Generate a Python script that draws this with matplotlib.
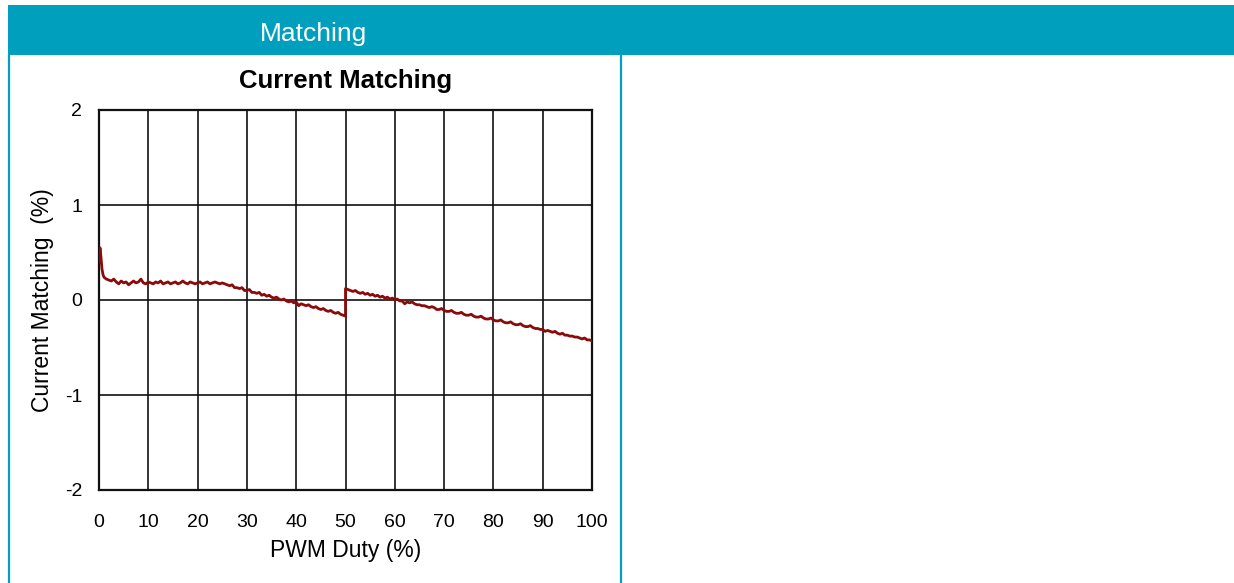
import matplotlib
matplotlib.use("Agg")
import matplotlib.pyplot as plt
from matplotlib.patches import Rectangle
from matplotlib.lines import Line2D

plt.rcParams['font.family'] = ['Liberation Sans', 'DejaVu Sans']
plt.rcParams['axes.unicode_minus'] = False

# valores (PWM duty em %, current matching em %)
duty_ini = [0.0, 0.2, 0.4, 0.6, 0.8, 1.0, 1.5, 2.0]
match_ini = [0.40, 0.55, 0.45, 0.33, 0.27, 0.24, 0.22, 0.21]

duty_plano = [2.5, 3.0, 3.5, 4.0, 4.5, 5.0, 5.5, 6.0, 6.5, 7.0, 7.5, 8.0, 8.5, 9.0, 9.5,
              10.0, 10.5, 11.0, 11.5, 12.0, 12.5, 13.0, 13.5, 14.0, 14.5, 15.0, 15.5,
              16.0, 16.5, 17.0, 17.5, 18.0, 18.5, 19.0, 19.5, 20.0, 20.5, 21.0, 21.5,
              22.0, 22.5, 23.0, 23.5, 24.0, 24.5, 25.0]
match_plano = [0.20, 0.22, 0.19, 0.17, 0.20, 0.18, 0.19, 0.16, 0.18, 0.20, 0.18, 0.19, 0.22,
               0.18, 0.17, 0.19, 0.18, 0.17, 0.19, 0.18, 0.20, 0.17, 0.18, 0.19, 0.17,
               0.18, 0.19, 0.17, 0.18, 0.20, 0.18, 0.17, 0.19, 0.18, 0.17, 0.18, 0.19,
               0.17, 0.18, 0.19, 0.17, 0.18, 0.19, 0.18, 0.17, 0.18]

duty_desce1 = [25.5, 26.0, 26.5, 27.0, 27.5, 28.0, 28.5, 29.0, 29.5, 30.0, 30.5, 31.0,
               31.5, 32.0, 32.5, 33.0, 33.5, 34.0, 34.5, 35.0, 35.5, 36.0, 36.5, 37.0,
               37.5, 38.0, 38.5, 39.0, 39.5, 40.0, 40.5, 41.0, 41.5, 42.0, 42.5, 43.0,
               43.5, 44.0, 44.5, 45.0, 45.5, 46.0, 46.5, 47.0, 47.5, 48.0, 48.5, 49.0,
               49.5, 50.0]
match_desce1 = [0.17, 0.16, 0.15, 0.16, 0.13, 0.13, 0.12, 0.13, 0.10, 0.10, 0.11, 0.08,
                0.08, 0.07, 0.08, 0.05, 0.06, 0.04, 0.05, 0.03, 0.02, 0.03, 0.01, 0.00,
                0.01, -0.01, -0.02, -0.01, -0.03, -0.02, -0.06, -0.04, -0.05, -0.06, -0.05,
                -0.07, -0.08, -0.07, -0.09, -0.10, -0.09, -0.11, -0.12, -0.11, -0.13,
                -0.14, -0.13, -0.15, -0.16, -0.17]

duty_desce2 = [50.0, 50.5, 51.0, 51.5, 52.0, 52.5, 53.0, 53.5, 54.0, 54.5, 55.0, 55.5,
               56.0, 56.5, 57.0, 57.5, 58.0, 58.5, 59.0, 59.5, 60.0, 60.5, 61.0, 61.5,
               62.0, 62.5, 63.0, 63.5, 64.0, 64.5, 65.0, 65.5, 66.0, 66.5, 67.0, 67.5,
               68.0, 68.5, 69.0, 69.5, 70.0, 70.5, 71.0, 71.5, 72.0, 72.5, 73.0, 73.5,
               74.0, 74.5, 75.0, 75.5, 76.0, 76.5, 77.0, 77.5, 78.0, 78.5, 79.0, 79.5,
               80.0, 80.5, 81.0, 81.5, 82.0, 82.5, 83.0, 83.5, 84.0, 84.5, 85.0, 85.5,
               86.0, 86.5, 87.0, 87.5, 88.0, 88.5, 89.0, 89.5, 90.0, 90.5, 91.0, 91.5,
               92.0, 92.5, 93.0, 93.5, 94.0, 94.5, 95.0, 95.5, 96.0, 96.5, 97.0, 97.5,
               98.0, 98.5, 99.0, 99.5, 100.0]
match_desce2 = [0.12, 0.11, 0.10, 0.09, 0.10, 0.08, 0.07, 0.08, 0.06, 0.07, 0.05, 0.06,
                0.04, 0.05, 0.03, 0.04, 0.02, 0.03, 0.01, 0.02, 0.00, 0.01, -0.01, -0.01,
                -0.04, -0.02, -0.03, -0.02, -0.04, -0.05, -0.05, -0.06, -0.06, -0.07,
                -0.08, -0.07, -0.08, -0.10, -0.10, -0.09, -0.11, -0.12, -0.12, -0.11,
                -0.13, -0.14, -0.14, -0.13, -0.15, -0.16, -0.16, -0.15, -0.17, -0.18,
                -0.18, -0.17, -0.19, -0.20, -0.20, -0.19, -0.21, -0.22, -0.22, -0.21,
                -0.23, -0.24, -0.24, -0.23, -0.25, -0.26, -0.26, -0.25, -0.27, -0.28,
                -0.28, -0.27, -0.29, -0.30, -0.30, -0.31, -0.31, -0.33, -0.32, -0.33,
                -0.34, -0.33, -0.35, -0.36, -0.35, -0.37, -0.37, -0.38, -0.38, -0.39,
                -0.39, -0.40, -0.41, -0.40, -0.42, -0.42, -0.43]

duty = duty_ini + duty_plano + duty_desce1 + duty_desce2
matching = match_ini + match_plano + match_desce1 + match_desce2

xticks = [0, 10, 20, 30, 40, 50, 60, 70, 80, 90, 100]
yticks = [-2, -1, 0, 1, 2]

teal = '#009fbd'
W, H = 1234, 583

fig = plt.figure(figsize=(W / 100, H / 100), dpi=100)

# barra de titulo e bordas da tabela
fig.patches.append(Rectangle((8 / W, 1 - 55 / H), 1 - 8 / W, 50 / H,
                             transform=fig.transFigure, facecolor=teal,
                             edgecolor='none', zorder=0))
fig.text(314 / W, 1 - 41 / H, 'Matching', color='white', fontsize=19,
         ha='center', va='baseline')
fig.lines.append(Line2D([8.5 / W, 8.5 / W], [0, 1 - 55 / H], transform=fig.transFigure,
                        color=teal, lw=1.6))
fig.lines.append(Line2D([621 / W, 621 / W], [0, 1 - 55 / H], transform=fig.transFigure,
                        color=teal, lw=1.6))

ax = fig.add_axes([99 / W, (H - 490) / H, 493 / W, 380 / H])
ax.plot(duty, matching, color='#8b0a0a', lw=2.0, zorder=3)
ax.set_xlim(0, 100)
ax.set_ylim(-2, 2)
ax.set_xticks(xticks)
ax.set_yticks(yticks)
ax.grid(True, color='#111111', lw=1.2)
for s in ax.spines.values():
    s.set_linewidth(1.6)
    s.set_color('#111111')
ax.tick_params(axis='both', length=0, labelsize=14)
ax.tick_params(axis='x', pad=17)
ax.tick_params(axis='y', pad=12)
ax.set_title('Current Matching', fontsize=18.5, fontweight='bold', pad=16)
ax.set_xlabel('PWM Duty (%)', fontsize=16.5, labelpad=6)
ax.set_ylabel('Current Matching  (%)', fontsize=16.5, labelpad=8)

fig.savefig('out.png', dpi=100)
